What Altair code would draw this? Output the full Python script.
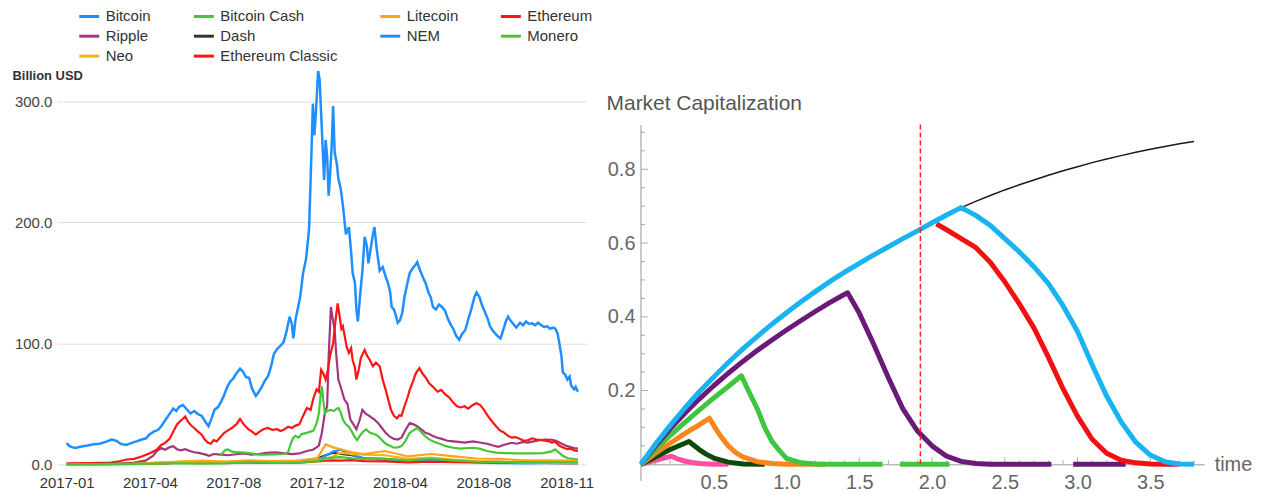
import altair as alt
import pandas as pd

FONT = "Liberation Sans"

# ---------------- left panel: crypto market caps (billion USD) ----------------
COINS_LEGEND = ["Bitcoin", "Bitcoin Cash", "Litecoin", "Ethereum", "Ripple",
                "Dash", "NEM", "Monero", "Neo", "Ethereum Classic"]
COIN_COLORS = ["#1f8fff", "#46c636", "#ffa21c", "#ff1414", "#a3357c",
               "#333333", "#1f8fff", "#46c636", "#f7b21a", "#ff1414"]
DRAW_ORDER = ["Bitcoin", "Ripple", "Ethereum", "Bitcoin Cash", "Dash", "NEM",
              "Ethereum Classic", "Neo", "Litecoin", "Monero"]

X_TICK_DAYS = [0, 111, 222, 333, 444, 555, 666]
X_TICK_LABELS = ["2017-01", "2017-04", "2017-08", "2017-12", "2018-04", "2018-08", "2018-11"]
Y_TICKS_LEFT = [0, 100, 200, 300]

BTC_DAY = [0,4,8,12,20,28,36,44,52,60,66,72,79,86,93,100,106,110,116,122,126,132,137,142,146,150,155,160,165,170,
           175,180,185,189,193,197,202,206,210,214,218,222,226,231,235,239,243,247,252,256,260,264,268,272,276,280,285,289,293,297,
           300,302,305,308,311,315,319,323,326,328,330,332,335,337,339,341,343,345,347,349,351,353,355,357,360,362,365,368,372,376,
           379,381,384,386,388,391,394,397,400,402,405,408,410,413,417,421,425,428,431,433,436,439,441,444,447,450,454,457,461,465,
           467,471,475,478,482,485,488,492,496,500,504,508,512,515,519,523,527,531,535,539,543,546,550,553,557,561,564,567,571,574,
           578,582,585,588,591,595,599,604,608,612,616,620,624,628,632,636,640,644,648,651,654,656,659,661,664,667,670,672,676,678,681]
BTC_VAL = [17.5,15.0,14.0,13.5,14.8,15.5,16.5,17.0,18.5,20.5,19.5,17.0,16.0,17.5,19.0,20.5,21.5,24.5,27.0,28.5,
           31.5,37.0,41.5,46.0,44.0,47.5,49.0,45.5,42.0,44.0,41.5,40.0,35.0,31.5,38.0,45.0,47.5,52.0,57.5,64.0,
           68.5,71.0,75.0,79.0,76.5,72.0,71.5,62.5,56.5,60.0,64.0,69.0,72.5,80.0,91.0,95.0,98.0,101.0,110.0,122.0,
           116.0,104.0,120.0,129.0,138.0,158.0,170.0,195.0,255.0,298.0,272.0,290.0,325.0,318.0,290.0,262.0,235.0,268.0,255.0,222.0,
           240.0,262.0,296.0,258.0,248.0,236.0,228.0,214.0,190.0,196.0,175.0,158.0,150.0,128.0,118.0,140.0,160.0,188.0,180.0,166.0,
           178.0,190.0,196.0,178.0,160.0,163.0,155.0,150.0,142.0,130.0,128.0,122.0,117.0,119.0,125.0,138.0,150.0,158.0,162.0,165.0,
           167.0,160.0,154.0,150.0,142.0,138.0,130.0,128.0,132.0,130.0,127.0,120.0,115.0,112.0,106.0,103.0,108.0,111.0,120.0,128.0,
           138.0,142.0,138.0,132.0,126.0,120.0,114.0,111.0,108.0,106.0,104.0,112.0,118.0,122.0,119.0,116.0,113.0,117.0,115.0,118.0,
           116.0,116.5,115.0,117.0,115.0,113.5,114.0,112.0,113.0,112.0,108.0,101.0,90.0,76.0,74.0,70.0,72.5,65.0,62.0,64.0,60.0]

ETH_DAY = [0,30,59,70,80,90,100,110,120,126,131,137,142,147,152,158,162,166,170,175,180,184,188,192,196,200,205,210,215,220,
           226,231,236,242,247,252,257,262,268,274,280,285,289,295,300,305,310,315,320,325,329,333,336,339,342,345,348,351,355,358,
           361,363,366,368,371,373,376,379,381,384,386,389,392,395,397,400,404,408,412,417,421,425,429,432,436,440,443,446,450,454,
           457,461,465,470,474,478,483,488,494,499,504,510,515,520,525,530,535,541,546,551,556,561,566,572,577,582,588,593,598,604,
           609,615,620,626,632,638,643,646,651,656,661,667,672,676,681]
ETH_VAL = [0.8,1.0,1.5,2.5,4.0,4.5,6.5,9.0,12.0,16.0,17.5,21.0,27.0,33.0,36.0,39.5,35.0,32.0,30.0,27.0,
           24.5,20.5,18.0,17.0,20.0,19.0,22.5,26.0,28.0,30.0,33.0,37.5,33.0,29.0,27.0,24.5,27.0,29.0,30.0,28.5,
           29.0,27.5,28.5,31.0,30.0,32.0,33.0,40.0,46.5,45.0,55.0,62.0,60.0,78.0,75.0,70.0,78.0,90.0,100.0,118.0,
           133.0,125.0,112.0,114.0,104.0,97.0,92.0,96.0,86.0,80.0,70.0,78.0,88.0,92.0,94.5,90.0,86.0,81.0,84.0,81.0,
           70.0,61.5,52.0,45.0,40.0,38.0,40.5,40.0,48.0,55.0,61.5,68.0,75.0,79.5,75.0,72.0,67.0,64.0,60.0,61.5,
           58.0,55.0,51.0,48.0,47.0,48.0,46.0,49.0,50.5,49.0,45.0,40.0,36.0,31.5,28.0,26.5,23.5,22.0,22.5,21.0,
           19.5,20.0,21.5,20.5,20.0,19.5,19.0,18.0,18.5,15.5,14.0,12.5,13.0,11.5,11.0]

XRP_DAY = [0,30,59,75,90,105,115,120,126,131,137,142,147,152,158,164,170,176,184,190,196,205,215,226,236,246,256,266,278,290,
           300,310,320,328,333,336,340,344,347,349,352,354,357,359,362,366,370,374,378,382,386,390,394,398,403,410,415,420,425,430,
           436,441,446,451,457,462,467,472,478,483,488,494,500,507,515,522,530,541,550,560,568,575,582,588,593,600,608,614,622,630,
           638,646,652,656,661,667,672,676,681]
XRP_VAL = [0.25,0.25,0.3,0.6,1.5,3.0,7.0,11.0,13.5,12.0,14.0,15.0,12.5,11.5,12.5,11.0,10.0,9.5,8.2,7.0,
           8.5,8.0,7.5,8.3,9.0,8.0,8.5,9.5,9.8,9.0,8.5,9.0,11.0,12.0,14.0,15.5,26.0,42.5,48.0,88.0,
           130.0,122.0,111.0,92.0,70.0,62.0,53.5,50.0,37.0,33.0,29.0,36.0,45.0,42.0,40.0,37.0,34.0,30.0,26.0,23.0,
           21.0,20.5,22.0,28.0,34.0,33.0,31.5,29.0,26.0,25.0,23.3,22.0,21.0,19.5,19.0,18.5,18.0,19.0,18.0,17.0,
           15.5,14.5,16.0,17.0,17.8,17.0,18.5,18.0,19.0,20.0,20.5,20.3,19.5,18.0,16.5,15.0,14.0,13.5,13.0]

BCH_DAY = [205,208,212,215,220,226,236,246,256,266,278,288,295,299,302,305,309,313,320,325,
           329,333,336,338,340,342,344,347,352,356,360,362,365,368,372,376,380,383,387,391,
           395,399,404,410,415,420,425,430,436,441,446,451,457,462,467,472,478,483,490,497,
           505,515,525,535,541,550,560,572,585,600,620,635,645,651,655,661,668,675,681]
BCH_VAL = [7.0,9.5,12.0,12.3,10.5,10.0,9.6,9.0,8.0,8.0,8.2,8.5,10.0,17.8,22.0,23.5,22.0,25.0,26.0,27.0,
           28.0,34.0,42.0,55.0,64.5,52.0,42.5,44.0,45.0,44.0,46.0,46.6,43.0,37.0,33.0,31.0,27.0,23.3,20.0,24.0,
           27.0,28.8,26.0,25.0,23.3,20.0,17.0,15.5,13.7,14.0,15.0,19.0,26.0,28.0,30.0,27.0,23.0,20.6,18.5,17.0,
           15.0,13.7,13.0,13.5,13.7,13.0,11.0,9.6,9.3,9.0,9.0,9.2,10.5,12.3,10.0,6.9,5.0,4.5,4.0]

SMALL_DAY = [0,31,59,90,120,151,181,212,243,273,304,320,334,345,355,365,380,396,424,455,485,516,546,577,608,638,669,681]
LTC_VAL = [0.2,0.2,0.2,0.5,1.4,1.5,2.2,2.2,3.3,2.6,3.0,4.0,5.0,16.5,14.0,12.5,10.0,8.5,11.0,6.5,8.5,6.5,4.8,4.5,3.3,3.2,3.0,2.9]
NEO_VAL = [0.1,0.1,0.1,0.2,0.5,2.5,3.0,2.0,2.5,1.5,1.7,2.2,3.5,4.5,6.5,9.5,8.5,8.0,7.5,4.5,5.5,4.0,2.6,2.2,1.3,1.3,1.0,1.0]
DASH_VAL = [0.08,0.15,0.4,0.6,0.7,1.3,1.3,1.4,2.5,2.2,2.3,3.5,5.0,7.5,9.5,8.5,7.5,5.0,4.5,2.6,3.5,2.8,2.0,2.0,1.5,1.5,1.3,1.2]
NEM_VAL = [0.03,0.04,0.06,0.3,1.2,2.0,1.5,1.6,2.5,2.0,1.8,2.5,3.8,7.0,10.5,12.0,8.0,5.0,3.5,2.3,3.5,2.2,1.5,1.0,0.8,0.9,0.8,0.8]
XMR_VAL = [0.2,0.2,0.3,0.4,0.6,0.7,0.6,0.7,1.8,1.3,1.3,2.0,2.6,5.0,5.5,6.0,5.0,4.5,4.5,3.2,4.5,3.0,2.1,1.8,1.9,1.7,1.6,1.6]
ETC_VAL = [0.1,0.1,0.2,0.3,0.4,1.6,1.8,1.3,1.4,1.1,1.1,1.8,2.4,3.0,3.2,3.0,3.5,2.6,2.4,1.5,2.2,1.8,1.6,1.6,1.2,1.2,1.0,1.0]

# ---------------- right panel: model curves ----------------
T_GRID = [0.0,0.1,0.2,0.3,0.4,0.5,0.6,0.7,0.8,0.9,1.0,1.1,1.2,1.3,1.4,1.5,1.6,1.7,1.8,1.9,
          2.0,2.1,2.2,2.3,2.4,2.5,2.6,2.7,2.8,2.9,3.0,3.1,3.2,3.3,3.4,3.5,3.6,3.7,3.8]
BLACK_V = [0.0,0.055,0.105,0.152,0.196,0.237,0.276,0.313,0.347,0.380,0.411,0.441,0.469,0.496,0.521,0.545,0.568,0.590,0.612,0.633,
           0.655,0.676,0.696,0.713,0.729,0.744,0.758,0.771,0.784,0.796,0.807,0.818,0.828,0.837,0.846,0.854,0.862,0.869,0.875]
CYAN_V = [0.0,0.055,0.105,0.152,0.196,0.237,0.276,0.313,0.347,0.380,0.411,0.441,0.469,0.496,0.521,0.545,0.568,0.590,0.612,0.633,
          0.655,0.676,0.696,0.675,0.648,0.612,0.576,0.536,0.49,0.43,0.36,0.27,0.185,0.115,0.06,0.025,0.007,0.001,0.0]
RED_T = [2.03,2.1,2.2,2.3,2.4,2.5,2.6,2.7,2.8,2.9,3.0,3.1,3.2,3.3,3.4,3.5,3.6,3.7]
RED_V = [0.652,0.636,0.612,0.588,0.548,0.495,0.435,0.37,0.29,0.205,0.13,0.068,0.03,0.011,0.004,0.001,0.0,0.0]
PURPLE_T = [0.0,0.1,0.2,0.3,0.4,0.5,0.6,0.7,0.8,0.9,1.0,1.1,1.2,1.3,1.4,1.42,1.5,1.6,1.7,1.8,1.9,2.0,2.1,2.2,2.3,2.4,2.6,2.82]
PURPLE_V = [0.0,0.05,0.096,0.138,0.177,0.213,0.247,0.279,0.309,0.337,0.364,0.39,0.415,0.439,0.461,0.465,0.41,0.325,0.235,0.15,
            0.09,0.05,0.022,0.008,0.002,0.0,0.0,0.0]
PURPLE2_T = [2.97, 3.33]
PURPLE2_V = [0.0, 0.0]
GREEN_T = [0.0,0.1,0.2,0.3,0.4,0.5,0.6,0.69,0.75,0.8,0.85,0.9,0.95,1.0,1.1,1.2,1.3,1.66]
GREEN_V = [0.0,0.04,0.078,0.113,0.147,0.18,0.211,0.24,0.19,0.15,0.1,0.062,0.038,0.016,0.004,0.001,0.0,0.0]
GREEN2_T = [1.78, 2.12]
GREEN2_V = [0.0, 0.0]
ORANGE_T = [0.0,0.1,0.2,0.3,0.4,0.47,0.5,0.55,0.6,0.65,0.7,0.8,0.9,1.0,1.27]
ORANGE_V = [0.0,0.03,0.057,0.083,0.107,0.125,0.105,0.075,0.05,0.032,0.02,0.007,0.002,0.0,0.0]
DGREEN_T = [0.0,0.1,0.2,0.33,0.4,0.45,0.5,0.6,0.7,0.85]
DGREEN_V = [0.0,0.02,0.04,0.062,0.04,0.027,0.017,0.006,0.001,0.0]
PINK_T = [0.0,0.1,0.21,0.25,0.3,0.35,0.4,0.5,0.6]
PINK_V = [0.0,0.011,0.022,0.015,0.009,0.005,0.002,0.0,0.0]

DASH_T = 1.92
DASH_TOP = 0.927
YAXIS_EXTENT = [-0.045, 0.92]
X_LABELS_R = [0.5, 1.0, 1.5, 2.0, 2.5, 3.0, 3.5]
Y_LABELS_R = [0.2, 0.4, 0.6, 0.8]
X_MINOR_R = [round(0.1 * i, 1) for i in range(1, 39) if i % 5 != 0]
Y_MINOR_R = [round(0.05 * i, 2) for i in range(1, 19) if i % 4 != 0]

# ================= left chart =================
rows = []
for name, days, vals in [("Bitcoin", BTC_DAY, BTC_VAL), ("Ethereum", ETH_DAY, ETH_VAL),
                         ("Ripple", XRP_DAY, XRP_VAL), ("Bitcoin Cash", BCH_DAY, BCH_VAL),
                         ("Litecoin", SMALL_DAY, LTC_VAL), ("Neo", SMALL_DAY, NEO_VAL),
                         ("Dash", SMALL_DAY, DASH_VAL), ("NEM", SMALL_DAY, NEM_VAL),
                         ("Monero", SMALL_DAY, XMR_VAL), ("Ethereum Classic", SMALL_DAY, ETC_VAL)]:
    for d, v in zip(days, vals):
        rows.append({"coin": name, "day": d, "value": v})
df_left = pd.DataFrame(rows)

label_expr = ("[" + ",".join("'%s'" % s for s in X_TICK_LABELS) + "][indexof(["
              + ",".join(str(d) for d in X_TICK_DAYS) + "], datum.value)]")

x_left = alt.X("day:Q", scale=alt.Scale(domain=[-13, 692], nice=False, zero=False),
               axis=alt.Axis(values=X_TICK_DAYS, labelExpr=label_expr, grid=False, domain=False,
                             ticks=False, labelFontSize=15, labelColor="#333", labelFont=FONT,
                             labelPadding=11, labelFlush=False, labelOverlap=False, title=None))
y_left = alt.Y("value:Q", scale=alt.Scale(domain=[0, 327], nice=False),
               axis=alt.Axis(values=Y_TICKS_LEFT, format=".1f", grid=True, gridColor="#dedede",
                             domain=False, ticks=False, labelFontSize=15, labelColor="#444",
                             labelFont=FONT, labelPadding=5, title="Billion USD", titleAngle=0,
                             titleAlign="left", titleBaseline="middle", titleX=-45, titleY=7,
                             titleFontSize=13, titleFontWeight="bold", titleColor="#333",
                             titleFont=FONT))
legend = alt.Legend(title=None, orient="none", legendX=21, legendY=-64, columns=4,
                    direction="horizontal", gridAlign="each", columnPadding=36, rowPadding=0,
                    symbolType="stroke", symbolSize=400, symbolStrokeWidth=3,
                    labelFontSize=15, labelFont=FONT, labelColor="#333", labelOffset=5,
                    labelLimit=400, padding=0)
c_left = alt.Color("coin:N", scale=alt.Scale(domain=COINS_LEGEND, range=COIN_COLORS), legend=legend)

base = alt.Chart(df_left)
left_layers = []
for name in DRAW_ORDER:
    left_layers.append(
        base.transform_filter(alt.datum.coin == name)
        .mark_line(strokeWidth=2.5 if name == "Bitcoin" else 2.2)
        .encode(x=x_left, y=y_left, color=c_left)
    )
left = alt.layer(*left_layers).properties(width=531, height=397)

# ================= right chart =================
XS_R = alt.Scale(domain=[0, 3.87], nice=False, zero=False)
YS_R = alt.Scale(domain=[0, 1.073], nice=False, zero=False)

ax_labels = alt.Axis(orient="bottom", values=X_LABELS_R, format=".1f", ticks=False, domain=True,
                     domainColor="#999", domainWidth=1, grid=False, labelFontSize=20,
                     labelColor="#666", labelFont=FONT, labelPadding=8, labelFlush=False,
                     title="time", titleX=575, titleY=0, titleAlign="left", titleBaseline="middle",
                     titleFontSize=20, titleFontWeight="normal", titleColor="#666", titleFont=FONT)
ay_labels = alt.Axis(orient="left", values=Y_LABELS_R, format=".1f", ticks=False, domain=False,
                     grid=False, labelFontSize=20, labelColor="#666", labelFont=FONT, labelPadding=6,
                     title="Market Capitalization", titleAngle=0, titleAlign="left",
                     titleBaseline="middle", titleX=-35, titleY=35, titleFontSize=21,
                     titleFontWeight="normal", titleColor="#555", titleFont=FONT)


def curve(ts, vs, color, width, xaxis=None, yaxis=None):
    df = pd.DataFrame({"t": ts, "v": vs})
    return alt.Chart(df).mark_line(color=color, strokeWidth=width, strokeJoin="round").encode(
        x=alt.X("t:Q", scale=XS_R, axis=xaxis),
        y=alt.Y("v:Q", scale=YS_R, axis=yaxis))


def xticks(vals, size):
    return alt.Chart(pd.DataFrame({"t": vals, "z": [0.0] * len(vals)})).mark_tick(
        orient="vertical", size=size, thickness=1, color="#888", yOffset=-size / 2).encode(
        x=alt.X("t:Q", scale=XS_R, axis=None), y=alt.Y("z:Q", scale=YS_R, axis=None))


def yticks(vals, size):
    return alt.Chart(pd.DataFrame({"v": vals, "z": [0.0] * len(vals)})).mark_tick(
        orient="horizontal", size=size, thickness=1, color="#888", xOffset=size / 2).encode(
        x=alt.X("z:Q", scale=XS_R, axis=None), y=alt.Y("v:Q", scale=YS_R, axis=None))


yline = alt.Chart(pd.DataFrame({"t": [0.0], "y0": [YAXIS_EXTENT[0]], "y1": [YAXIS_EXTENT[1]]})).mark_rule(
    color="#999", strokeWidth=1).encode(
    x=alt.X("t:Q", scale=XS_R, axis=None), y=alt.Y("y0:Q", scale=YS_R, axis=None), y2="y1:Q")

dash = alt.Chart(pd.DataFrame({"t": [DASH_T], "y0": [0.0], "y1": [DASH_TOP]})).mark_rule(
    color="#ff2020", strokeWidth=1.5, strokeDash=[5, 3]).encode(
    x=alt.X("t:Q", scale=XS_R, axis=None), y=alt.Y("y0:Q", scale=YS_R, axis=None), y2="y1:Q")

right = alt.layer(
    curve(T_GRID, BLACK_V, "#1a1a1a", 1.5, ax_labels, ay_labels),
    yline,
    xticks(X_MINOR_R, 4), xticks(X_LABELS_R, 7),
    yticks(Y_MINOR_R, 4), yticks(Y_LABELS_R, 7),
    curve(PINK_T, PINK_V, "#ff4fa3", 5),
    curve(DGREEN_T, DGREEN_V, "#0b4a0b", 5),
    curve(ORANGE_T, ORANGE_V, "#ff8419", 5),
    curve(GREEN_T, GREEN_V, "#3fc63f", 5),
    curve(GREEN2_T, GREEN2_V, "#3fc63f", 5),
    curve(PURPLE_T, PURPLE_V, "#6a1b7a", 5),
    curve(PURPLE2_T, PURPLE2_V, "#6a1b7a", 5),
    curve(RED_T, RED_V, "#f21010", 5),
    curve(T_GRID, CYAN_V, "#19b4ef", 5),
    dash,
).resolve_axis(x="independent", y="independent").properties(width=565, height=397)

chart = alt.hconcat(left, right, spacing=55, bounds="flush").properties(
    padding={"left": 4, "top": -4, "right": 5, "bottom": 0}, background="white"
).configure_view(stroke=None)

chart.save("out.html", embed_options={"renderer": "svg", "actions": False})
